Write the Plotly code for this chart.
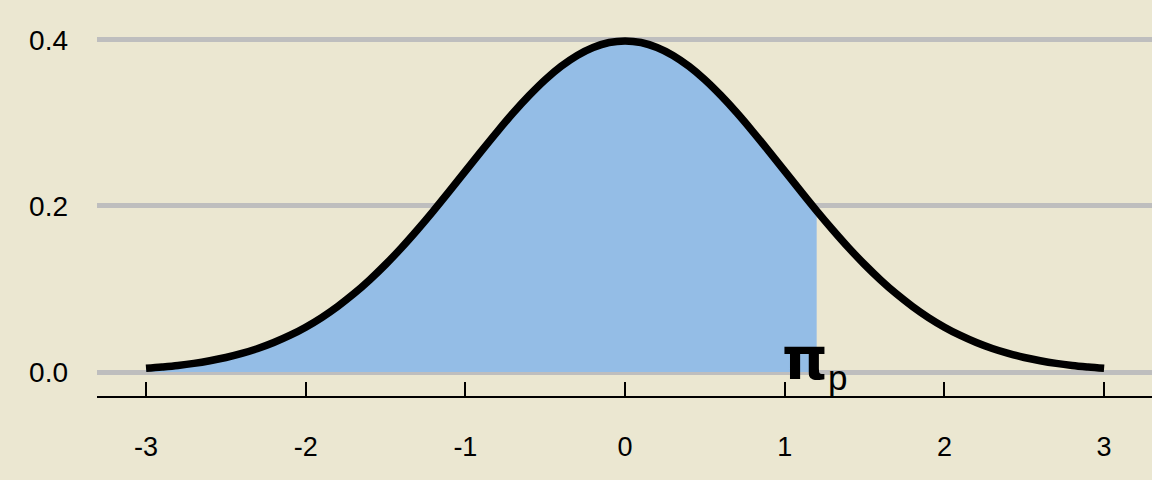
import plotly.graph_objects as go

# ---- data ----
x_vals = [-3.0, -2.9, -2.8, -2.7, -2.6, -2.5, -2.4, -2.3, -2.2, -2.1,
          -2.0, -1.9, -1.8, -1.7, -1.6, -1.5, -1.4, -1.3, -1.2, -1.1,
          -1.0, -0.9, -0.8, -0.7, -0.6, -0.5, -0.4, -0.3, -0.2, -0.1,
          0.0, 0.1, 0.2, 0.3, 0.4, 0.5, 0.6, 0.7, 0.8, 0.9,
          1.0, 1.1, 1.2, 1.3, 1.4, 1.5, 1.6, 1.7, 1.8, 1.9,
          2.0, 2.1, 2.2, 2.3, 2.4, 2.5, 2.6, 2.7, 2.8, 2.9, 3.0]
density = [0.0044, 0.0060, 0.0079, 0.0104, 0.0136, 0.0175, 0.0224, 0.0283, 0.0355, 0.0440,
           0.0540, 0.0656, 0.0790, 0.0940, 0.1109, 0.1295, 0.1497, 0.1714, 0.1942, 0.2179,
           0.2420, 0.2661, 0.2897, 0.3123, 0.3332, 0.3521, 0.3683, 0.3814, 0.3910, 0.3970,
           0.3989, 0.3970, 0.3910, 0.3814, 0.3683, 0.3521, 0.3332, 0.3123, 0.2897, 0.2661,
           0.2420, 0.2179, 0.1942, 0.1714, 0.1497, 0.1295, 0.1109, 0.0940, 0.0790, 0.0656,
           0.0540, 0.0440, 0.0355, 0.0283, 0.0224, 0.0175, 0.0136, 0.0104, 0.0079, 0.0060, 0.0044]
shade_upper = 1.2
label_main = "π"
label_sub = "p"
x_ticks = [-3, -2, -1, 0, 1, 2, 3]
x_ticktext = ["-3", "-2", "-1", "0", "1", "2", "3"]
y_ticks = [0.0, 0.2, 0.4]
y_ticktext = ["0.0", "0.2", "0.4"]

BG = "#EBE7D1"
FILL = "#94BDE6"
GRID = "#BEBEBE"
FONT = "Liberation Sans, Arial, sans-serif"

shade_x = [xv for xv in x_vals if xv <= shade_upper + 1e-9]
shade_y = density[:len(shade_x)]

fig = go.Figure()
fig.add_trace(go.Scatter(x=shade_x, y=shade_y, mode="lines", fill="tozeroy",
                         fillcolor=FILL, line=dict(width=0, color=FILL),
                         hoverinfo="skip", showlegend=False))
fig.add_trace(go.Scatter(x=x_vals, y=density, mode="lines",
                         line=dict(color="black", width=7.5, shape="spline"),
                         showlegend=False))

label_text = ('<span style="font-family:DejaVu Sans;font-size:58px;font-weight:bold">'
              + label_main + '</span><sub>' + label_sub + '</sub>')
fig.add_annotation(x=shade_upper, y=0, text=label_text, showarrow=False,
                   xanchor="center", yanchor="middle", xshift=-2, yshift=11,
                   font=dict(family=FONT, size=50, color="black"))

fig.update_layout(
    width=1152, height=480,
    margin=dict(l=97, r=0, t=10, b=84),
    paper_bgcolor=BG, plot_bgcolor=BG,
    font=dict(family=FONT, color="black"),
    xaxis=dict(range=[-3.307, 3.3], tickvals=x_ticks, ticktext=x_ticktext,
               showgrid=False, zeroline=False, showline=True, linecolor="black",
               linewidth=2, ticks="inside", ticklen=14, tickwidth=2, tickcolor="black",
               tickfont=dict(size=27, family=FONT, color="black"),
               ticklabelstandoff=26),
    yaxis=dict(range=[-0.0289, 0.4361], tickvals=y_ticks, ticktext=y_ticktext,
               showgrid=True, gridcolor=GRID, gridwidth=4.5, zeroline=False,
               showline=False, ticks="",
               tickfont=dict(size=28, family=FONT, color="black"),
               ticklabelstandoff=28),
)

fig.write_html("out.html", config={"displayModeBar": False},
               post_script="document.body.style.margin='0';document.body.style.overflow='hidden';")
